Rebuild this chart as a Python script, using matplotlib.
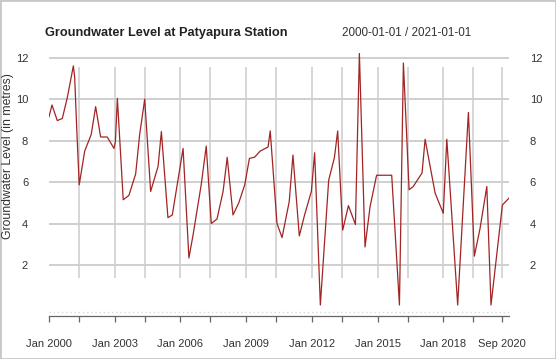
import pandas as pd
import matplotlib.pyplot as plt
from matplotlib.patches import Rectangle

# groundwater level readings (metres)
dates = [
    "2000-01-01", "2000-02-20", "2000-05-18", "2000-08-10", "2000-11-03",
    "2001-02-10", "2001-03-04", "2001-04-13", "2001-05-19", "2001-08-18",
    "2001-12-05", "2002-02-17", "2002-05-11", "2002-08-29", "2002-12-20",
    "2003-01-12", "2003-02-14", "2003-05-23", "2003-08-25", "2003-12-16",
    "2004-02-21", "2004-05-15", "2004-08-22", "2004-12-24", "2005-02-17",
    "2005-06-06", "2005-08-18", "2006-02-14", "2006-05-22", "2006-07-30",
    "2006-12-13", "2007-03-07", "2007-05-30", "2007-09-02", "2007-12-13",
    "2008-02-20", "2008-05-26", "2008-08-29", "2008-12-08", "2009-02-24",
    "2009-05-22", "2009-08-22", "2010-01-01", "2010-02-06", "2010-05-30",
    "2010-08-22", "2010-12-20", "2011-02-20", "2011-06-06", "2011-09-02",
    "2011-12-24", "2012-02-17", "2012-05-22", "2012-10-08", "2013-01-12",
    "2013-03-07", "2013-05-30", "2013-09-02", "2013-12-28", "2014-03-04",
    "2014-06-06", "2014-08-29", "2014-12-16", "2015-08-25", "2016-01-01",
    "2016-03-07", "2016-06-10", "2016-08-18", "2017-01-12", "2017-03-04",
    "2017-08-18", "2018-01-01", "2018-03-01", "2018-08-29", "2019-02-24",
    "2019-06-03", "2019-09-06", "2019-12-28", "2020-03-07", "2020-09-13",
    "2021-01-01",
]
levels = [
    9.15, 9.72, 8.97, 9.07, 10.1,
    11.6, 11.06, 8.2, 5.88, 7.5,
    8.3, 9.64, 8.18, 8.18, 7.63,
    7.95, 10.04, 5.16, 5.37, 6.4,
    8.3, 10.0, 5.56, 6.77, 8.44,
    4.3, 4.43, 7.63, 2.36, 3.46,
    5.88, 7.74, 4.02, 4.23, 5.56,
    7.2, 4.43, 5.0, 5.88, 7.15,
    7.21, 7.5, 7.7, 8.47, 4.02,
    3.34, 5.07, 7.31, 3.42, 4.43,
    5.56, 7.42, 0.1, 6.1, 7.2,
    8.47, 3.7, 4.88, 3.97, 12.2,
    2.89, 4.83, 6.34, 6.34, 0.1,
    11.74, 5.64, 5.8, 6.45, 8.07,
    5.48, 4.51, 8.07, 0.1, 9.36,
    2.45, 3.78, 5.8, 0.1, 4.91,
    5.24,
]

label_ticks = ["2000-01-01", "2003-01-01", "2006-01-01", "2009-01-01",
               "2012-01-01", "2015-01-01", "2018-01-01", "2020-09-01"]
tick_labels = ["Jan 2000", "Jan 2003", "Jan 2006", "Jan 2009",
               "Jan 2012", "Jan 2015", "Jan 2018", "Sep 2020"]
minor_ticks = ["2001-05-15", "2004-05-15", "2007-05-15", "2010-05-15",
               "2013-05-15", "2016-05-15", "2019-05-15"]

title = "Groundwater Level at Patyapura Station"
date_range = "2000-01-01 / 2021-01-01"

plt.rcParams["font.family"] = ["Liberation Sans", "DejaVu Sans"]

x = pd.to_datetime(dates)
major = pd.to_datetime(label_ticks)
minor = pd.to_datetime(minor_ticks)

fig = plt.figure(figsize=(5.56, 3.59), dpi=100)
ax = fig.add_axes([49 / 556, 43 / 359, 460 / 556, 263 / 359])

# vertical grid at every tick except the first
grid_x = sorted(list(minor) + list(major[1:]))
ax.vlines(grid_x, 0.146, 0.947, transform=ax.get_xaxis_transform(),
          color="#cfcfcf", lw=1.2, zorder=1)
ax.axhline(-0.24, color="#d8d8d8", lw=1.0, ls=(0, (1, 2)), zorder=1)

ax.plot(x, levels, color="#a22424", lw=0.9, zorder=3)

ax.set_xlim(pd.Timestamp("2000-01-01"), pd.Timestamp("2021-01-01"))
ax.set_ylim(-0.43, 12.22)
ax.set_yticks(range(2, 13, 2))
ax.grid(axis="y", color="#cfcfcf", lw=1.4, zorder=1)
ax.set_axisbelow(True)

ax.set_xticks(major)
ax.set_xticklabels(tick_labels)
ax.set_xticks(minor, minor=True)
ax.tick_params(axis="x", which="both", length=4.5, width=0.9,
               color="#666666", direction="out")
ax.tick_params(axis="x", which="major", pad=12, labelsize=8,
               labelcolor="#333333")
ax.tick_params(axis="y", left=False, right=False, labelleft=True,
               labelright=True, pad=11.5, labelsize=8, labelcolor="#333333")

for s in ["top", "left", "right"]:
    ax.spines[s].set_visible(False)
ax.spines["bottom"].set_color("#666666")
ax.spines["bottom"].set_linewidth(0.9)

fig.text(45 / 556, 1 - 33 / 359, title, fontsize=9.2, fontweight="bold",
         color="#222222", ha="left", va="center")
fig.text(471 / 556, 1 - 33 / 359, date_range, fontsize=8.4,
         color="#333333", ha="right", va="center")
fig.text(8 / 556, 1 - 156 / 359, "Groundwater Level (in metres)",
         fontsize=8.8, color="#333333", rotation=90, ha="center", va="center")

fig.patches.append(Rectangle((0, 0), 1, 1, transform=fig.transFigure,
                             fill=False, edgecolor="#c8c8c8", lw=2))

fig.savefig("out.png", dpi=100)
